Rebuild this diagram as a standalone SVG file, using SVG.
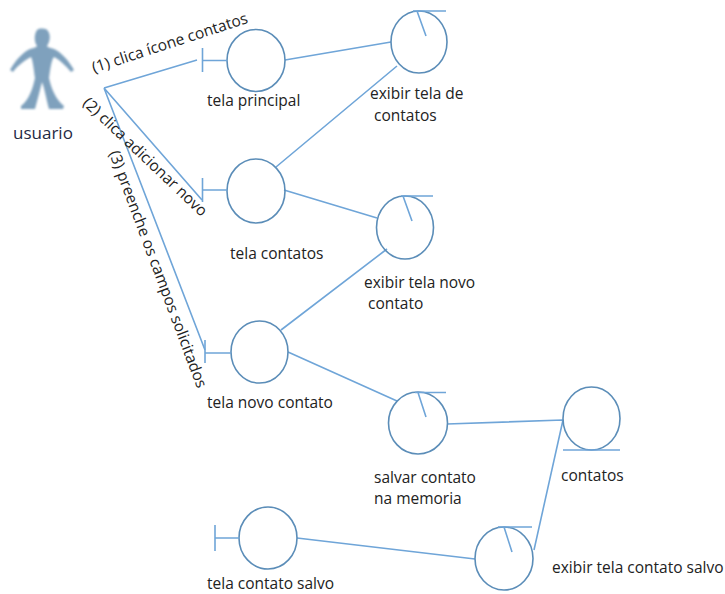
<svg xmlns="http://www.w3.org/2000/svg" width="725" height="594" viewBox="0 0 725 594">
<defs>
<filter id="soft" x="-10%" y="-10%" width="120%" height="120%"><feGaussianBlur stdDeviation="0.9"/></filter>
</defs>
<style>
.c{fill:none;stroke:#5b8db8;stroke-width:1.6}
.l{fill:none;stroke:#6fa5d8;stroke-width:1.6}
text{font-family:"Open Sans","Noto Sans","Liberation Sans",sans-serif;font-size:15.5px;fill:#222222}
</style>
<rect width="725" height="594" fill="#ffffff"/>
<g id="connectors">
<path class="l" d="M104 88L197 60M104 88L202 200M104 88L205 350"/>
<path class="l" d="M285 60L391 42M276 167L397 66M284 190L377 218M281 330L387 249M288 352L397 401M447 424L563 420M534 550L563 420M297 538L475 559"/>
</g>
<g id="usuario">
<path filter="url(#soft)" fill="#7fa1bd" d="M37 30C40 28 46 28 48 31C51 35 50 42 47 46C47 47 50 48 54 49C60 51 70 62 74 70L71 72C66 66 60 60 54 57C51 60 50 72 49 78C51 88 56 100 64 106L63 109L49 109C46 98 45 90 42 82C40 90 38 98 35 109L21 109L21 106C29 100 33 88 35 78C34 72 33 60 31 57C25 60 17 66 13 72L10 70C14 62 24 51 30 49C34 48 37 47 37 46C34 42 34 34 37 30Z"/>
<text x="13" y="139" style="font-size:17px;fill:#1f2a44">usuario</text>
</g>
<g id="tela-principal">
<ellipse class="c" cx="256" cy="60.5" rx="29" ry="31"/>
<path class="l" d="M202.500 48V72M202.500 60.500H227"/>
<text x="207" y="106">tela principal</text>
</g>
<g id="tela-contatos">
<ellipse class="c" cx="256" cy="191" rx="29" ry="32"/>
<path class="l" d="M202.500 178V202M202.500 190H227"/>
<text x="230" y="259">tela contatos</text>
</g>
<g id="tela-novo-contato">
<ellipse class="c" cx="259.500" cy="352" rx="28.500" ry="31"/>
<path class="l" d="M205 340V363M205 353H231"/>
<text x="207" y="408">tela novo contato</text>
</g>
<g id="exibir-tela-de-contatos">
<ellipse class="c" cx="419" cy="42" rx="28" ry="31"/>
<path class="l" d="M413 11H446M417 11L426 36"/>
<text x="370" y="99">exibir tela de</text>
<text x="374" y="121">contatos</text>
</g>
<g id="exibir-tela-novo-contato">
<ellipse class="c" cx="405" cy="227.500" rx="28.500" ry="31.500"/>
<path class="l" d="M401 196H433M403 196L412 221"/>
<text x="364" y="288">exibir tela novo</text>
<text x="368" y="309">contato</text>
</g>
<g id="salvar-contato">
<ellipse class="c" cx="418" cy="423" rx="29.500" ry="31"/>
<path class="l" d="M415 392.500H446M418 392.500L426 417"/>
<text x="374" y="483">salvar contato</text>
<text x="374" y="504">na memoria</text>
</g>
<g id="contatos">
<ellipse class="c" cx="591.500" cy="418.500" rx="28.500" ry="31.500"/>
<path class="l" d="M563 450H620"/>
<text x="561" y="481">contatos</text>
</g>
<g id="tela-contato-salvo">
<ellipse class="c" cx="268" cy="538" rx="29" ry="31"/>
<path class="l" d="M215 525V551M215 538H239"/>
<text x="207" y="589">tela contato salvo</text>
</g>
<g id="exibir-tela-contato-salvo">
<ellipse class="c" cx="504" cy="558.500" rx="29" ry="31.500"/>
<path class="l" d="M498 527H532M504 527L512 552"/>
<text x="552" y="573">exibir tela contato salvo</text>
</g>
<g id="labels">
<text transform="translate(94 73) rotate(-18)">(1) clica ícone contatos</text>
<text transform="translate(82 104) rotate(43.500)">(2) clica adicionar novo</text>
<text transform="translate(109 153) rotate(69.500)">(3) preenche os campos solicitados</text>
</g>
</svg>
